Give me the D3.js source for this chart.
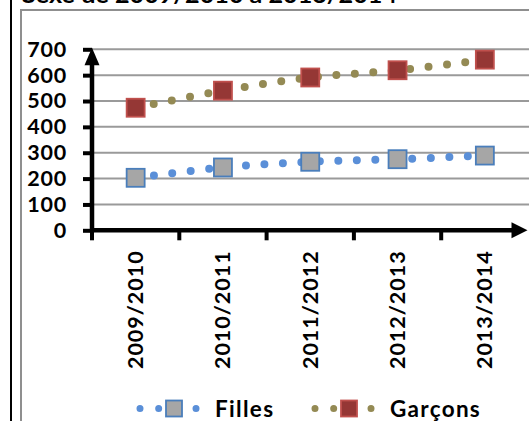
<!DOCTYPE html>
<html><head><meta charset="utf-8">
<script src="https://cdn.jsdelivr.net/npm/d3@7"></script>
<style>
html,body{margin:0;padding:0;background:#fff;}
svg{display:block;}
text{font-family:Lato,"Open Sans",sans-serif;font-weight:700;fill:#000;}
</style></head>
<body>
<svg id="chart" width="529" height="421"></svg>
<script>
const titleText = "Sexe de 2009/2010 à 2013/2014";
const categories = ["2009/2010","2010/2011","2011/2012","2012/2013","2013/2014"];
const filles = [203, 243, 265, 275, 289];
const garcons = [474, 540, 591, 619, 660];
const yTicks = [0,100,200,300,400,500,600,700];
const seriesNames = ["Filles","Garçons"];

const series = [
  {name: seriesNames[0], values: filles, dot: "#5A8FD8", fill: "#A6A6A6", stroke: "#4A7EBB"},
  {name: seriesNames[1], values: garcons, dot: "#948A54", fill: "#953735", stroke: "#C0504D"}
];

const FS = 21.5;
const svg = d3.select("#chart");
svg.append("rect").attr("width",529).attr("height",421).attr("fill","#fff");

// frame lines
svg.append("line").attr("x1",11).attr("x2",11).attr("y1",0).attr("y2",421)
  .attr("stroke","#000").attr("stroke-width",2);
svg.append("path").attr("d","M21,421V10H529").attr("fill","none")
  .attr("stroke","#8f8f8f").attr("stroke-width",2);

// title (cut off at top)
svg.append("text").attr("x",22).attr("y",3).attr("font-size",22)
  .attr("textLength",375).attr("lengthAdjust","spacingAndGlyphs").text(titleText);

const x = d3.scaleBand().domain(categories).range([92, 528.5]);
const y = d3.scaleLinear().domain([0,700]).range([230.3, 49.3]);
const cx = d => x(d) + x.bandwidth()/2;

// gridlines
svg.append("g").selectAll("line").data(yTicks.slice(1)).join("line")
  .attr("x1",92).attr("x2",529).attr("y1",d=>y(d)).attr("y2",d=>y(d))
  .attr("stroke","#9a9a9a").attr("stroke-width",2);

// y axis with ticks/labels
const yAxis = svg.append("g").attr("transform","translate(92,0)")
  .call(d3.axisLeft(y).tickValues(yTicks).tickSize(9).tickPadding(16).tickFormat(d3.format("d")));
yAxis.select(".domain").remove();
yAxis.selectAll(".tick line").attr("stroke","#000").attr("stroke-width",4);
yAxis.selectAll(".tick text").attr("font-size",FS).attr("font-family","Lato").attr("font-weight",700).attr("fill","#000")
  .attr("letter-spacing","0.8px");

// x axis labels
const xAxis = svg.append("g").attr("transform",`translate(0,${y(0)})`)
  .call(d3.axisBottom(x).tickSize(0).tickPadding(0));
xAxis.select(".domain").remove();
xAxis.selectAll(".tick text").attr("font-size",FS).attr("font-family","Lato").attr("font-weight",700).attr("fill","#000")
  .attr("letter-spacing","1px")
  .attr("transform","rotate(-90)").attr("text-anchor","end")
  .attr("x",-20).attr("y",0).attr("dy","0.35em");

// x ticks at band boundaries
svg.append("g").selectAll("line").data(categories).join("line")
  .attr("x1",d=>x(d)).attr("x2",d=>x(d)).attr("y1",y(0)).attr("y2",y(0)+10)
  .attr("stroke","#000").attr("stroke-width",4);

// axis lines with arrows
svg.append("line").attr("x1",92).attr("x2",92).attr("y1",y(0)+2).attr("y2",62)
  .attr("stroke","#000").attr("stroke-width",4.5);
svg.append("path").attr("d",`M92,${y(700)-1.5}L84.5,${y(700)+16}L99.5,${y(700)+16}Z`).attr("fill","#000");
svg.append("line").attr("x1",90).attr("x2",514).attr("y1",y(0)).attr("y2",y(0))
  .attr("stroke","#000").attr("stroke-width",4.5);
svg.append("path").attr("d",`M527.5,${y(0)}L511.5,${y(0)-8}L511.5,${y(0)+8}Z`).attr("fill","#000");

// series lines
const line = d3.line().x((d,i)=>cx(categories[i])).y(d=>y(d)).curve(d3.curveCatmullRom);
series.forEach(s=>{
  svg.append("path").attr("d",line(s.values)).attr("fill","none")
    .attr("stroke",s.dot).attr("stroke-width",8).attr("stroke-linecap","round")
    .attr("stroke-dasharray","0 18.5");
});
series.forEach(s=>{
  svg.append("g").selectAll("rect").data(s.values).join("rect")
    .attr("x",(d,i)=>cx(categories[i])-9).attr("y",d=>y(d)-9)
    .attr("width",18).attr("height",18)
    .attr("fill",s.fill).attr("stroke",s.stroke).attr("stroke-width",1.8);
});

// legend
const legendX = [140, 315];
series.forEach((s,i)=>{
  const g = svg.append("g").attr("transform",`translate(${legendX[i]},408.5)`);
  g.append("line").attr("x1",0).attr("x2",68).attr("y1",0).attr("y2",0)
    .attr("stroke",s.dot).attr("stroke-width",7).attr("stroke-linecap","round")
    .attr("stroke-dasharray","0 18.67");
  g.append("rect").attr("x",26).attr("y",-8).attr("width",16).attr("height",16)
    .attr("fill",s.fill).attr("stroke",s.stroke).attr("stroke-width",1.8);
  g.append("text").attr("x",75).attr("y",0).attr("dy","0.36em").attr("font-size",22.5)
    .attr("letter-spacing","1.3px").text(s.name);
});
</script>
</body></html>
